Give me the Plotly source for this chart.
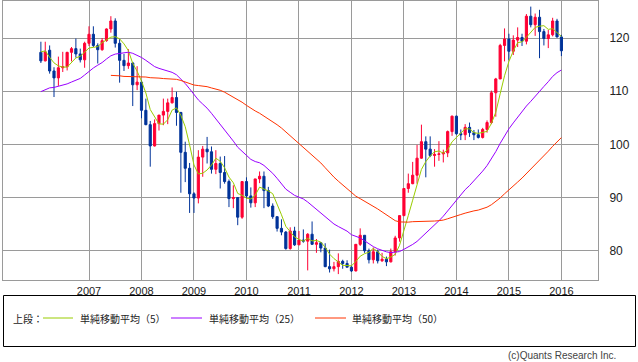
import pandas as pd
import plotly.graph_objects as go

# Monthly candles, Feb 2006 - Jan 2016
months = pd.period_range("2006-02", "2016-01", freq="M").astype(str).tolist()

opens = [
    117.3, 115.7, 117.7, 113.8, 112.5, 114.4, 114.6, 117.3, 118.0, 117.0, 115.9,
    119.0, 120.7, 118.6, 117.8, 119.5, 121.7, 123.2, 119.0, 115.8, 114.8, 115.3, 111.2,
    111.7, 106.4, 103.7, 99.7, 103.9, 105.5, 106.2, 107.8, 108.8, 106.0, 98.5, 95.5,
    90.7, 89.9, 97.6, 99.1, 98.6, 95.3, 96.4, 94.7, 93.0, 89.8, 90.0, 86.3,
    93.0, 90.3, 89.0, 93.5, 94.0, 91.3, 88.4, 86.4, 84.2, 83.5, 80.4, 83.7,
    81.1, 82.0, 81.8, 83.1, 81.2, 81.5, 80.5, 77.0, 76.6, 77.0, 78.0, 77.6,
    76.9, 76.2, 81.2, 82.9, 80.0, 78.3, 79.8, 78.1, 78.4, 77.9, 79.8, 82.4,
    86.6, 91.7, 92.6, 94.2, 97.4, 100.5, 99.1, 97.9, 98.1, 98.2, 98.4, 102.4,
    105.3, 102.0, 101.8, 103.2, 102.2, 101.8, 101.3, 102.8, 104.1, 109.7, 112.3, 118.6,
    119.8, 117.5, 119.6, 120.1, 119.4, 124.1, 122.5, 123.9, 121.2, 119.9, 120.6, 123.2,
    120.2,
]
highs = [
    119.3, 119.3, 118.6, 114.5, 116.5, 117.4, 117.4, 118.3, 119.9, 118.0, 119.3,
    122.2, 122.2, 119.0, 120.0, 121.8, 124.1, 123.7, 119.8, 117.0, 117.9, 115.5, 114.7,
    112.1, 108.6, 104.4, 104.7, 105.5, 108.6, 108.6, 110.7, 109.9, 106.1, 100.5, 96.5,
    91.0, 98.9, 99.7, 101.4, 99.6, 98.9, 97.7, 97.8, 93.4, 92.3, 90.0, 93.1,
    93.8, 91.9, 93.5, 94.9, 94.9, 92.0, 88.9, 86.4, 85.9, 83.7, 84.4, 84.5,
    83.7, 84.0, 83.3, 85.5, 82.2, 81.6, 81.4, 80.2, 77.9, 79.5, 78.3, 78.2,
    77.2, 81.2, 84.2, 82.9, 80.4, 80.6, 80.2, 79.6, 78.9, 80.4, 82.8, 86.6,
    91.7, 94.5, 96.7, 99.9, 103.7, 101.5, 101.5, 99.1, 100.6, 99.0, 102.6, 105.4,
    105.4, 102.8, 103.8, 104.1, 102.7, 102.8, 103.1, 104.5, 110.1, 112.5, 118.9, 121.8,
    120.8, 120.5, 122.0, 120.8, 124.5, 125.9, 124.6, 125.3, 121.7, 121.5, 123.8, 123.6,
    120.6,
]
lows = [
    115.3, 115.6, 113.3, 108.9, 111.0, 113.6, 113.9, 115.6, 116.3, 115.4, 114.4,
    118.5, 118.3, 115.2, 117.6, 119.3, 121.0, 118.2, 111.6, 113.8, 114.2, 107.2, 110.2,
    104.9, 103.6, 95.8, 99.6, 102.6, 103.6, 103.8, 107.7, 103.5, 90.9, 92.9, 87.1,
    87.1, 88.9, 93.9, 96.4, 94.5, 94.4, 91.7, 92.6, 88.2, 88.0, 84.8, 86.0,
    89.8, 88.1, 88.2, 92.7, 88.0, 88.2, 86.0, 83.6, 82.9, 80.2, 80.2, 80.9,
    81.1, 81.5, 76.3, 81.3, 79.6, 79.7, 76.9, 75.9, 76.1, 75.6, 76.6, 76.9,
    76.0, 76.1, 80.9, 79.6, 77.6, 77.6, 77.6, 77.9, 77.1, 77.8, 79.1, 81.7,
    86.5, 90.9, 92.5, 92.6, 97.3, 93.8, 97.6, 95.8, 96.9, 96.6, 97.6, 101.6,
    101.8, 100.8, 100.8, 101.4, 100.8, 101.1, 101.1, 102.2, 103.8, 105.2, 112.3, 115.6,
    115.9, 116.8, 118.3, 118.5, 118.8, 122.0, 120.4, 116.2, 118.6, 118.1, 120.3, 120.1,
    116.6,
]
closes = [
    115.7, 117.4, 113.8, 112.5, 114.4, 114.6, 117.3, 118.0, 117.0, 115.9, 119.0,
    120.7, 118.6, 117.8, 119.5, 121.7, 123.2, 119.0, 115.8, 114.8, 115.3, 111.2, 111.7,
    106.4, 103.7, 99.7, 103.9, 105.5, 106.2, 107.8, 108.8, 106.0, 98.5, 95.5, 90.7,
    89.9, 97.6, 99.1, 98.6, 95.3, 96.4, 94.7, 93.0, 89.8, 90.0, 86.3, 93.0,
    90.3, 89.0, 93.5, 94.0, 91.3, 88.4, 86.4, 84.2, 83.5, 80.4, 83.7, 81.1,
    82.0, 81.8, 83.1, 81.2, 81.5, 80.5, 77.0, 76.6, 77.0, 78.0, 77.6, 76.9,
    76.2, 81.2, 82.9, 80.0, 78.3, 79.8, 78.1, 78.4, 77.9, 79.8, 82.4, 86.6,
    91.7, 92.6, 94.2, 97.4, 100.5, 99.1, 97.9, 98.1, 98.2, 98.4, 102.4, 105.3,
    102.0, 101.8, 103.2, 102.2, 101.8, 101.3, 102.8, 104.1, 109.7, 112.3, 118.6, 119.8,
    117.5, 119.6, 120.1, 119.4, 124.1, 122.5, 123.9, 121.2, 119.9, 120.6, 123.2, 120.2,
    117.6,
]

# Closes before the visible range (May 2003 - Jan 2006), used by the moving averages
closes_before = [
    119.3, 119.8, 120.5, 116.9, 111.3, 109.0, 109.6, 107.2,
    105.9, 109.1, 104.3, 110.4, 109.6, 108.8, 111.4, 109.2, 110.1, 105.8, 103.1, 102.6,
    103.6, 104.6, 107.2, 104.9, 108.2, 110.9, 112.5, 111.2, 113.4, 116.4, 119.8, 117.8,
    117.2,
]

year_labels = ["2007", "2008", "2009", "2010", "2011", "2012", "2013", "2014", "2015", "2016"]
y_ticks = [80, 90, 100, 110, 120]
ma_periods = [5, 25, 50]
ma_names = ["単純移動平均（5）", "単純移動平均（25）", "単純移動平均（50）"]
ma_colors = ["#99CC00", "#9900FF", "#FF3300"]

x = list(range(len(months)))
all_closes = pd.Series(closes_before + closes)
n_before = len(closes_before)
year_pos = [i for i, m in enumerate(months) if m.endswith("-01")]

fig = go.Figure()
fig.add_trace(go.Candlestick(
    x=x, open=opens, high=highs, low=lows, close=closes,
    increasing=dict(line=dict(color="#FF0033", width=1), fillcolor="#FF0033"),
    decreasing=dict(line=dict(color="#003399", width=1), fillcolor="#003399"),
    whiskerwidth=0, showlegend=False, hoverinfo="skip",
))
for p, nm, col in zip(ma_periods, ma_names, ma_colors):
    ma = all_closes.rolling(p).mean().iloc[n_before:].tolist()
    fig.add_trace(go.Scatter(x=x, y=ma, mode="lines", name=nm,
                             line=dict(color=col, width=1), showlegend=False,
                             hoverinfo="skip"))

L, R, T, B = 3, 40, 1, 82
W, H = 638, 362
pw = W - L - R
ph = H - T - B

def px(xp):
    return (xp - L) / pw

def py(yp):
    return (H - B - yp) / ph

shapes = [dict(type="rect", xref="paper", yref="paper", x0=px(3.5), x1=px(635.5),
               y0=py(295.5), y1=py(346.5), line=dict(color="#000000", width=1))]
annotations = [dict(text="上段：", xref="paper", yref="paper", x=px(11), y=py(318),
                    xanchor="left", yanchor="middle", showarrow=False,
                    font=dict(family="Noto Sans CJK JP", size=10, color="#222222"))]
line_x = [(43, 73, 78), (171, 202, 207), (315, 346, 350)]
for (a, b, t), nm, col in zip(line_x, ma_names, ma_colors):
    shapes.append(dict(type="line", xref="paper", yref="paper", x0=px(a), x1=px(b),
                       y0=py(318), y1=py(318), line=dict(color=col, width=1)))
    annotations.append(dict(text=nm, xref="paper", yref="paper", x=px(t), y=py(318),
                            xanchor="left", yanchor="middle", showarrow=False,
                            font=dict(family="Noto Sans CJK JP", size=10, color="#222222")))
annotations.append(dict(text="(c)Quants Research Inc.", xref="paper", yref="paper",
                        x=px(618), y=py(355), xanchor="right", yanchor="middle",
                        showarrow=False,
                        font=dict(family="Liberation Sans", size=10, color="#444444")))

step = (561.7 - 89.3) / 108.0
x0 = 89.3 - 11 * step
fig.update_layout(
    width=W, height=H, margin=dict(l=L, r=R, t=T, b=B),
    paper_bgcolor="white", plot_bgcolor="white",
    shapes=shapes, annotations=annotations, showlegend=False,
    xaxis=dict(range=[(3.3 - x0) / step, (598.3 - x0) / step],
               tickvals=year_pos, ticktext=year_labels,
               showgrid=True, gridcolor="#9A9A9A", gridwidth=1,
               showline=True, linecolor="#9A9A9A", linewidth=1, mirror=True,
               zeroline=False, ticks="outside", ticklen=1, tickcolor="rgba(0,0,0,0)",
               tickfont=dict(family="Liberation Sans", size=11, color="#222222"),
               rangeslider=dict(visible=False), fixedrange=True),
    yaxis=dict(range=[80 - 29.3 / 5.318, 120 + 37 / 5.318], side="right",
               tickvals=y_ticks, ticktext=[str(v) for v in y_ticks],
               showgrid=True, gridcolor="#9A9A9A", gridwidth=1,
               showline=True, linecolor="#9A9A9A", linewidth=1, mirror=True,
               zeroline=False, ticks="outside", ticklen=8, tickcolor="rgba(0,0,0,0)",
               tickfont=dict(family="Liberation Sans", size=12, color="#222222"),
               fixedrange=True),
)

fig.write_html("out.html", config={"displayModeBar": False},
               post_script="document.body.style.margin='0px';document.body.style.overflow='hidden';")
